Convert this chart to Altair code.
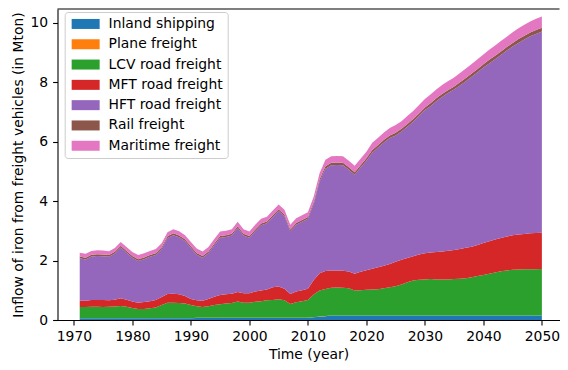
import altair as alt
import pandas as pd

years = list(range(1971, 2051))

series_names = ["Inland shipping", "Plane freight", "LCV road freight",
                "MFT road freight", "HFT road freight", "Rail freight",
                "Maritime freight"]
series_colors = ["#1f77b4", "#ff7f0e", "#2ca02c", "#d62728", "#9467bd",
                 "#8c564b", "#e377c2"]

inland = [0.06, 0.06, 0.06, 0.06, 0.06, 0.06, 0.06, 0.06, 0.06, 0.06,
          0.06, 0.06, 0.06, 0.06, 0.06, 0.06, 0.06, 0.06, 0.06, 0.06,
          0.07, 0.07, 0.07, 0.07, 0.07, 0.07, 0.07, 0.07, 0.07, 0.07,
          0.07, 0.07, 0.07, 0.07, 0.07, 0.07, 0.07, 0.07, 0.07, 0.07,
          0.09, 0.11, 0.13, 0.15, 0.15, 0.15, 0.15, 0.15, 0.15, 0.15,
          0.15, 0.15, 0.15, 0.15, 0.15, 0.15, 0.15, 0.15, 0.15, 0.15,
          0.15, 0.15, 0.15, 0.15, 0.15, 0.15, 0.15, 0.15, 0.15, 0.15,
          0.15, 0.15, 0.15, 0.15, 0.15, 0.15, 0.15, 0.15, 0.15, 0.15]

plane = [0.003, 0.003, 0.003, 0.003, 0.003, 0.003, 0.003, 0.003, 0.003, 0.003,
         0.003, 0.003, 0.003, 0.003, 0.003, 0.003, 0.003, 0.003, 0.003, 0.003,
         0.003, 0.003, 0.003, 0.003, 0.003, 0.003, 0.003, 0.003, 0.003, 0.003,
         0.004, 0.004, 0.004, 0.004, 0.004, 0.004, 0.004, 0.004, 0.004, 0.004,
         0.004, 0.004, 0.004, 0.004, 0.004, 0.004, 0.004, 0.004, 0.004, 0.004,
         0.005, 0.005, 0.005, 0.005, 0.005, 0.005, 0.005, 0.005, 0.005, 0.005,
         0.005, 0.005, 0.005, 0.005, 0.005, 0.005, 0.005, 0.005, 0.005, 0.005,
         0.005, 0.005, 0.005, 0.005, 0.005, 0.005, 0.005, 0.005, 0.005, 0.005]

lcv = [0.37, 0.37, 0.38, 0.38, 0.37, 0.38, 0.39, 0.41, 0.38, 0.34,
       0.31, 0.31, 0.33, 0.36, 0.44, 0.52, 0.52, 0.51, 0.49, 0.44,
       0.39, 0.36, 0.39, 0.43, 0.46, 0.48, 0.50, 0.55, 0.51, 0.51,
       0.54, 0.56, 0.59, 0.60, 0.62, 0.59, 0.46, 0.52, 0.56, 0.60,
       0.76, 0.88, 0.91, 0.93, 0.94, 0.93, 0.91, 0.84, 0.85, 0.86,
       0.87, 0.88, 0.91, 0.95, 0.98, 1.04, 1.11, 1.17, 1.20, 1.21,
       1.22, 1.21, 1.21, 1.21, 1.22, 1.23, 1.25, 1.28, 1.32, 1.36,
       1.40, 1.44, 1.48, 1.51, 1.53, 1.54, 1.55, 1.55, 1.55, 1.56]

mft = [0.22, 0.21, 0.23, 0.23, 0.24, 0.22, 0.23, 0.26, 0.24, 0.22,
       0.21, 0.23, 0.24, 0.25, 0.27, 0.29, 0.30, 0.29, 0.25, 0.20,
       0.20, 0.21, 0.24, 0.28, 0.31, 0.31, 0.31, 0.32, 0.32, 0.32,
       0.34, 0.36, 0.36, 0.43, 0.43, 0.39, 0.34, 0.36, 0.37, 0.38,
       0.49, 0.58, 0.60, 0.58, 0.57, 0.57, 0.57, 0.56, 0.62, 0.66,
       0.70, 0.74, 0.76, 0.78, 0.82, 0.83, 0.82, 0.82, 0.85, 0.88,
       0.89, 0.92, 0.94, 0.96, 0.98, 1.00, 1.02, 1.03, 1.05, 1.07,
       1.09, 1.11, 1.12, 1.14, 1.16, 1.18, 1.19, 1.21, 1.22, 1.22]

hft = [1.42, 1.39, 1.46, 1.48, 1.47, 1.46, 1.55, 1.70, 1.58, 1.47,
       1.40, 1.44, 1.49, 1.51, 1.61, 1.88, 1.97, 1.92, 1.85, 1.72,
       1.53, 1.45, 1.54, 1.73, 1.92, 1.93, 1.96, 2.15, 1.94, 1.86,
       2.03, 2.19, 2.23, 2.36, 2.54, 2.43, 2.11, 2.25, 2.30, 2.35,
       2.56, 3.08, 3.44, 3.54, 3.55, 3.55, 3.42, 3.33, 3.50, 3.68,
       3.90, 4.02, 4.14, 4.23, 4.25, 4.31, 4.41, 4.52, 4.65, 4.81,
       4.93, 5.08, 5.20, 5.31, 5.39, 5.50, 5.60, 5.71, 5.80, 5.90,
       5.98, 6.06, 6.15, 6.25, 6.35, 6.44, 6.53, 6.62, 6.69, 6.76]

rail = [0.06, 0.06, 0.06, 0.06, 0.06, 0.06, 0.06, 0.06, 0.06, 0.06,
        0.06, 0.06, 0.06, 0.06, 0.06, 0.06, 0.06, 0.06, 0.06, 0.06,
        0.06, 0.06, 0.06, 0.06, 0.06, 0.06, 0.06, 0.06, 0.06, 0.06,
        0.06, 0.06, 0.06, 0.06, 0.06, 0.06, 0.06, 0.06, 0.06, 0.06,
        0.07, 0.08, 0.08, 0.08, 0.08, 0.08, 0.08, 0.08, 0.08, 0.08,
        0.09, 0.09, 0.09, 0.09, 0.09, 0.09, 0.09, 0.09, 0.09, 0.09,
        0.10, 0.10, 0.10, 0.10, 0.10, 0.11, 0.11, 0.11, 0.11, 0.11,
        0.12, 0.12, 0.12, 0.12, 0.12, 0.13, 0.13, 0.13, 0.13, 0.13]

maritime = [0.13, 0.13, 0.13, 0.13, 0.13, 0.13, 0.13, 0.13, 0.13, 0.13,
            0.14, 0.14, 0.14, 0.14, 0.14, 0.14, 0.14, 0.14, 0.14, 0.14,
            0.15, 0.15, 0.15, 0.15, 0.15, 0.15, 0.15, 0.15, 0.15, 0.15,
            0.16, 0.16, 0.16, 0.16, 0.16, 0.16, 0.16, 0.16, 0.16, 0.16,
            0.18, 0.20, 0.22, 0.22, 0.22, 0.22, 0.22, 0.22, 0.22, 0.22,
            0.24, 0.24, 0.25, 0.25, 0.26, 0.26, 0.27, 0.27, 0.28, 0.28,
            0.29, 0.29, 0.30, 0.30, 0.31, 0.31, 0.32, 0.32, 0.33, 0.33,
            0.34, 0.34, 0.35, 0.35, 0.36, 0.36, 0.37, 0.37, 0.38, 0.38]

x_ticks = [1970, 1980, 1990, 2000, 2010, 2020, 2030, 2040, 2050]
y_ticks = [0, 2, 4, 6, 8, 10]

all_series = [inland, plane, lcv, mft, hft, rail, maritime]
rows = []
for k, (name, vals) in enumerate(zip(series_names, all_series)):
    for yr, v in zip(years, vals):
        rows.append({"year": yr, "series": name, "value": v, "order": k})
df = pd.DataFrame(rows)

FONT = "DejaVu Sans"
FS = 13.9
W, H = 502, 311
PX_PER_YEAR = 5.85

areas = alt.Chart(df).mark_area(opacity=1, interpolate="linear").encode(
    x=alt.X("year:Q",
            scale=alt.Scale(domain=[1967.2, 1967.2 + W / PX_PER_YEAR],
                            nice=False, zero=False),
            axis=alt.Axis(values=x_ticks, format="d", title="Time (year)",
                          titlePadding=4)),
    y=alt.Y("value:Q", stack="zero",
            scale=alt.Scale(domain=[0, 10.454], nice=False),
            axis=alt.Axis(values=y_ticks, format="d",
                          title="Inflow of iron from freight vehicles (in Mton)",
                          titlePadding=5)),
    color=alt.Color("series:N",
                    scale=alt.Scale(domain=series_names, range=series_colors),
                    legend=alt.Legend(
                        title=None, orient="none", legendX=7.2, legendY=3,
                        symbolType="M-2.8,-1L2.8,-1L2.8,1L-2.8,1Z",
                        symbolSize=100, symbolStrokeWidth=0, symbolOpacity=1,
                        symbolOffset=9,
                        labelFont=FONT, labelFontSize=FS, labelColor="black",
                        labelOffset=16, rowPadding=5.3, padding=5,
                        fillColor="white", strokeColor="#cccccc",
                        cornerRadius=3)),
    order=alt.Order("order:Q", sort="ascending"),
)

top_spine = alt.Chart(pd.DataFrame({"s": [0]})).mark_rule(
    color="black", strokeWidth=1.1).encode(
    x=alt.value(0), x2=alt.value(W), y=alt.value(0))

chart = alt.layer(areas, top_spine).properties(
    width=W, height=H,
    autosize=alt.AutoSizeParams(type="none"),
    padding={"left": 49.5, "top": 1, "right": 0, "bottom": 42},
).configure_view(stroke=None).configure_axis(
    labelFont=FONT, labelFontSize=FS, labelColor="black",
    titleFont=FONT, titleFontSize=FS, titleFontWeight="normal", titleColor="black",
    tickSize=4.9, tickWidth=1.1, tickColor="black", labelPadding=4.9,
    domainColor="black", domainWidth=1.1, grid=False,
)

chart.save("out.html", embed_options={"renderer": "svg", "actions": False})
